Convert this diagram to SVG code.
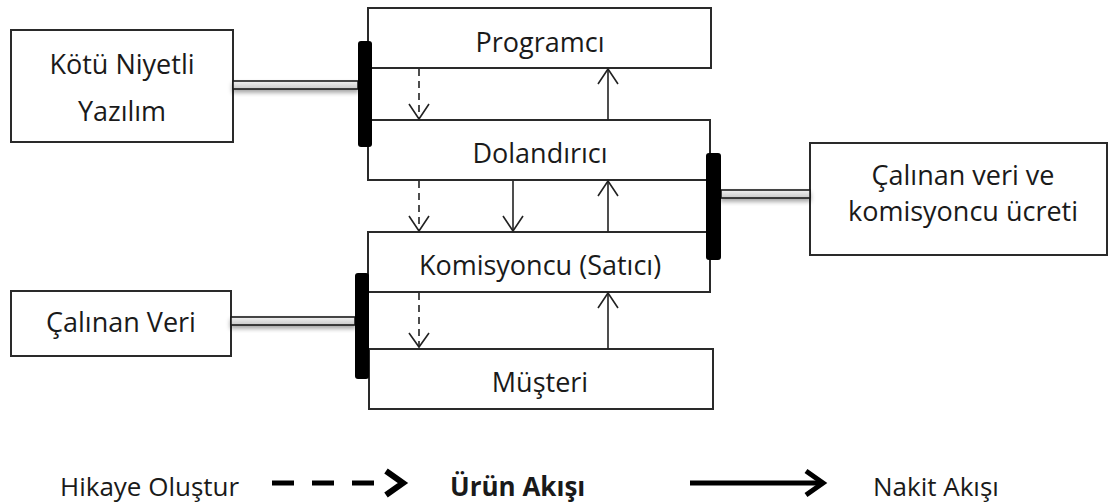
<svg xmlns="http://www.w3.org/2000/svg" width="1112" height="504" viewBox="0 0 1112 504">
<defs>
<style>
.box{fill:#fff;stroke:#2a2a2a;stroke-width:2}
.t{font-family:"Open Sans","Noto Sans",sans-serif;font-size:27px;fill:#1a1a1a;text-anchor:middle}
.lg{font-family:"Open Sans","Noto Sans",sans-serif;font-size:26px;fill:#1a1a1a}
.bar{fill:#000}
.pipe{fill:url(#pg);stroke:#1a1a1a;stroke-width:1.6}
.solid{stroke:#222;stroke-width:1.6;fill:none}
.dash{stroke:#222;stroke-width:1.6;fill:none;stroke-dasharray:7 5}
.head{stroke:#222;stroke-width:1.6;fill:none}
</style>
<linearGradient id="pg" x1="0" y1="0" x2="0" y2="1">
<stop offset="0" stop-color="#f2f2f2"/>
<stop offset="1" stop-color="#c8c8c8"/>
</linearGradient>
<filter id="sh" x="-10%" y="-50%" width="120%" height="250%">
<feDropShadow dx="0" dy="3" stdDeviation="2" flood-color="#000" flood-opacity="0.35"/>
</filter>
</defs>

<g id="node-kotu">
<rect class="box" x="11" y="30" width="222" height="112"/>
<text class="t" x="122" y="74">Kötü Niyetli</text>
<text class="t" x="122" y="121">Yazılım</text>
</g>

<g id="node-programci">
<rect class="box" x="368" y="8" width="343" height="60"/>
<text class="t" x="540" y="52">Programcı</text>
</g>

<g id="node-dolandirici">
<rect class="box" x="368" y="120" width="342" height="60"/>
<text class="t" x="540" y="163">Dolandırıcı</text>
</g>

<g id="node-komisyoncu">
<rect class="box" x="368" y="232" width="342" height="60"/>
<text class="t" x="540" y="275">Komisyoncu (Satıcı)</text>
</g>

<g id="node-musteri">
<rect class="box" x="369" y="349" width="344" height="60"/>
<text class="t" x="540" y="392">Müşteri</text>
</g>

<g id="node-calinan-veri">
<rect class="box" x="11" y="291" width="220" height="65"/>
<text class="t" x="121" y="332">Çalınan Veri</text>
</g>

<g id="node-ucret">
<rect class="box" x="810" y="143" width="297" height="112"/>
<text class="t" x="963" y="185">Çalınan veri ve</text>
<text class="t" x="963" y="221">komisyoncu ücreti</text>
</g>

<g id="connectors">
<rect class="pipe" x="233" y="81" width="125" height="8" filter="url(#sh)"/>
<rect class="bar" x="358" y="41" width="14" height="106" rx="3"/>

<rect class="pipe" x="721" y="190" width="89" height="8" filter="url(#sh)"/>
<rect class="bar" x="706" y="153" width="15" height="107" rx="3"/>

<rect class="pipe" x="231" y="317" width="124" height="8" filter="url(#sh)"/>
<rect class="bar" x="355" y="273" width="14" height="106" rx="3"/>

<!-- dashed down arrows -->
<line class="dash" x1="419" y1="69" x2="419" y2="118"/>
<polyline class="head" points="409,104 419,119 429,104"/>
<line class="dash" x1="419" y1="181" x2="419" y2="230"/>
<polyline class="head" points="409,216 419,231 429,216"/>
<line class="dash" x1="419" y1="293" x2="419" y2="346"/>
<polyline class="head" points="409,333 419,347 429,333"/>

<!-- solid down arrow -->
<line class="solid" x1="513" y1="181" x2="513" y2="231"/>
<polyline class="head" points="503,216 513,231 523,216"/>

<!-- solid up arrows -->
<line class="solid" x1="608" y1="120" x2="608" y2="69"/>
<polyline class="head" points="598,84 608,69 618,84"/>
<line class="solid" x1="608" y1="232" x2="608" y2="181"/>
<polyline class="head" points="598,196 608,181 618,196"/>
<line class="solid" x1="608" y1="349" x2="608" y2="293"/>
<polyline class="head" points="598,308 608,293 618,308"/>
</g>

<g id="legend">
<text class="lg" x="60" y="496">Hikaye Oluştur</text>
<line x1="272" y1="483" x2="376" y2="483" stroke="#000" stroke-width="5" stroke-dasharray="22 18"/>
<polyline points="386,471 403,483 386,495" stroke="#000" stroke-width="6" fill="none" stroke-linejoin="miter"/>
<text class="lg" x="450" y="496" font-weight="bold">Ürün Akışı</text>
<line x1="690" y1="483" x2="822" y2="483" stroke="#000" stroke-width="5"/>
<polyline points="806,471 823,483 806,495" stroke="#000" stroke-width="5" fill="none" stroke-linejoin="miter"/>
<text class="lg" x="873" y="496">Nakit Akışı</text>
</g>
</svg>
